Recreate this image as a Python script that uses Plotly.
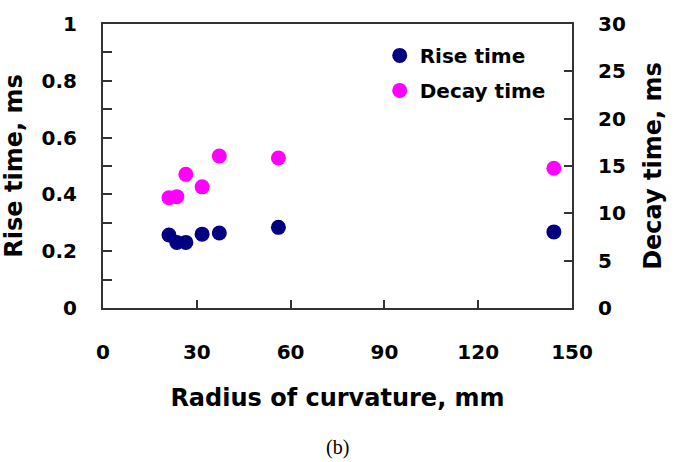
import plotly.graph_objects as go

radius = [21.1, 23.6, 26.5, 31.7, 37.2, 56.1, 144.2]
rise_time = [0.257, 0.231, 0.231, 0.260, 0.264, 0.284, 0.268]
radius_decay = [21.1, 23.6, 26.5, 31.7, 37.2, 56.1, 144.2]
decay_time = [11.65, 11.76, 14.12, 12.8, 16.06, 15.85, 14.76]

FONT = "DejaVu Sans, Arial, sans-serif"
LINE = "#333333"
TICKFONT = dict(family=FONT, size=20, color="black", weight="bold")
TITLEFONT = dict(family=FONT, size=24, color="black", weight="bold")

fig = go.Figure()
fig.add_trace(go.Scatter(
    x=radius, y=rise_time, mode="markers", name="Rise time",
    marker=dict(color="#000080", size=15), legendgroup="a", yaxis="y"))
fig.add_trace(go.Scatter(
    x=radius_decay, y=decay_time, mode="markers", name="Decay time",
    marker=dict(color="#FF00FF", size=15), legendgroup="b", yaxis="y2"))

fig.update_layout(
    width=676, height=462,
    margin=dict(l=103, r=104, t=24, b=154),
    plot_bgcolor="white", paper_bgcolor="white",
    font=dict(family=FONT, size=20, color="black"),
    showlegend=True,
    legend=dict(x=0.59, y=0.958, xanchor="left", yanchor="top",
                bgcolor="rgba(0,0,0,0)", tracegroupgap=6,
                font=dict(family=FONT, size=20, color="black", weight="bold"),
                traceorder="grouped"),
    xaxis=dict(range=[0, 150], dtick=30, tick0=0, showline=True, mirror=True,
               linecolor=LINE, linewidth=2, ticks="inside", ticklen=8,
               tickcolor=LINE, tickwidth=1.5, showgrid=False, zeroline=False,
               tickfont=TICKFONT, ticklabelstandoff=25,
               title=dict(text="Radius of curvature, mm", font=TITLEFONT, standoff=26)),
    yaxis=dict(range=[0, 1], dtick=0.2, tick0=0, showline=True,
               linecolor=LINE, linewidth=2, ticks="inside", ticklen=9,
               tickcolor=LINE, tickwidth=1.5, showgrid=False, zeroline=False,
               minor=dict(dtick=0.1, ticks="inside", ticklen=9, tickcolor=LINE, tickwidth=1.5),
               tickfont=TICKFONT, ticklabelstandoff=20,
               title=dict(text="Rise time, ms", font=TITLEFONT, standoff=14)),
    yaxis2=dict(range=[0, 30], dtick=5, tick0=0, overlaying="y", side="right",
                showline=True, linecolor=LINE, linewidth=2, ticks="inside",
                ticklen=8, tickcolor=LINE, tickwidth=1.5, showgrid=False,
                zeroline=False, tickfont=TICKFONT, ticklabelstandoff=20,
                title=dict(text="Decay time, ms", font=TITLEFONT, standoff=19)),
)

fig.add_annotation(text="(b)", x=0.5, xref="paper", y=-0.54, yref="paper",
                   xanchor="center", yanchor="bottom", showarrow=False,
                   font=dict(size=20, family="Liberation Serif, serif", color="black"))

fig.write_html("out.html")
